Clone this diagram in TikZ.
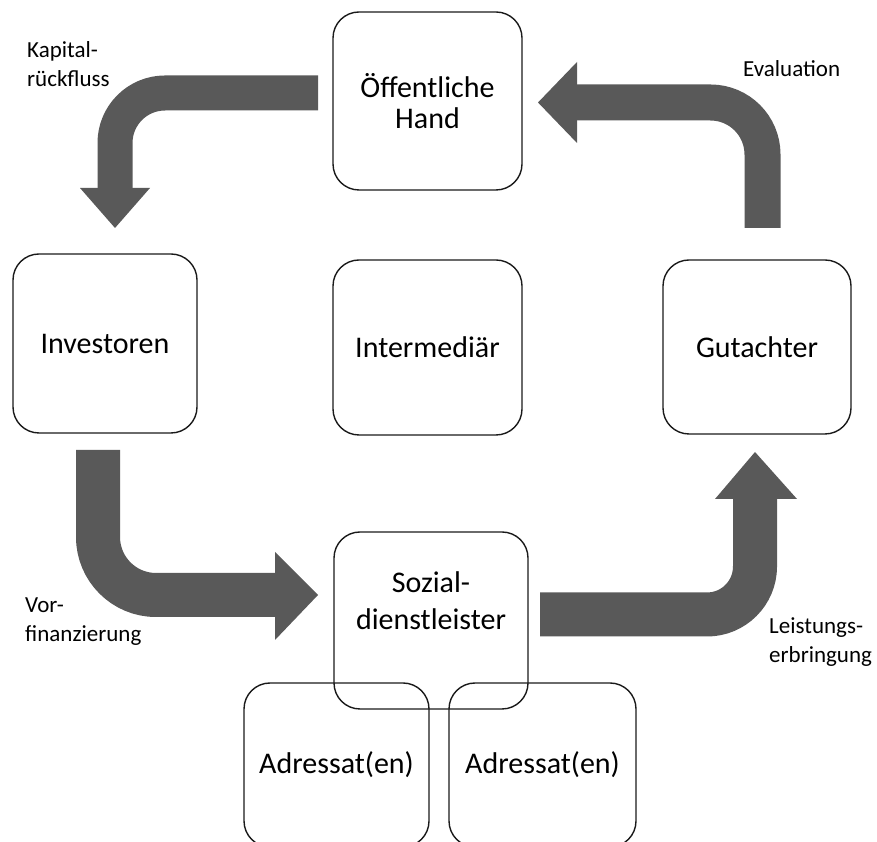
\documentclass[tikz,border=0pt]{standalone}
\usepackage{fontspec}
\setmainfont{Carlito}
\definecolor{agray}{HTML}{595959}
\definecolor{lineblack}{HTML}{1A1A1A}
\begin{document}
\begin{tikzpicture}[x=1pt,y=1pt,
  box/.style={draw=lineblack, line width=1.4pt, rounded corners=26pt, inner sep=0pt,
    font=\fontsize{30}{33}\selectfont, align=center},
  boxtext/.style={inner sep=0pt, font=\fontsize{30}{37}\selectfont, align=center},
  lab/.style={inner sep=0pt, font=\fontsize{23}{29}\selectfont, align=left, anchor=base west},
  shaft/.style={draw=agray},
  head/.style={fill=agray}
]
\clip (0,0) rectangle (877,842);
\useasboundingbox (0,0) rectangle (877,842);

% boxes
\node[box, font=\fontsize{30}{31}\selectfont, minimum width=189pt, minimum height=178pt] (oh) at (427.5,741) {Öffentliche\\Hand};
\node[box, minimum width=184pt, minimum height=179pt] (inv) at (105,498.5) {Investoren};
\node[box, minimum width=189pt, minimum height=175pt] (int) at (427.5,494.5) {Intermediär};
\node[box, minimum width=188pt, minimum height=174pt] (gut) at (757,495) {Gutachter};
\node[box, minimum width=194pt, minimum height=177pt] (soz) at (431,221.5) {};
\node[boxtext] (soztext) at (431,241) {Sozial-\\dienstleister};
\node[box, minimum width=185pt, minimum height=164pt] (adr1) at (336.5,77) {Adressat(en)};
\node[box, minimum width=187pt, minimum height=164pt] (adr2) at (542.5,77) {Adressat(en)};

% block arrows: shaft end points and heads
\coordinate (a1s) at (318,749);
\coordinate (a1e) at (115,652);
\coordinate (a2s) at (762.5,614);
\coordinate (a2e) at (575,739.5);
\coordinate (a3s) at (98,392);
\coordinate (a3e) at (277,247);
\coordinate (a4s) at (540,227.5);
\coordinate (a4e) at (755,345);

\draw[shaft, line width=35pt, rounded corners=50pt] (a1s) -| (a1e);
\fill[head] (80,654) -- (150,654) -- (115,614) -- cycle;

\draw[shaft, line width=36pt, rounded corners=52pt] (a2s) |- (a2e);
\fill[head] (577,780) -- (577,699) -- (538,739.5) -- cycle;

\draw[shaft, line width=44pt, rounded corners=58pt] (a3s) |- (a3e);
\fill[head] (275,290) -- (275,202) -- (318,247) -- cycle;

\draw[shaft, line width=44pt, rounded corners=48pt] (a4s) -| (a4e);
\fill[head] (715,343) -- (797,343) -- (755,390) -- cycle;

% labels (anchor = baseline of the last line)
\node[lab] (kap) at (27,755) {Kapital-\\rückfluss};
\node[lab] (eval) at (743,765) {Evaluation};
\node[lab] (vor) at (25,200) {Vor-\\finanzierung};
\node[lab] (leis) at (769,179) {Leistungs-\\erbringung};
\end{tikzpicture}
\end{document}
